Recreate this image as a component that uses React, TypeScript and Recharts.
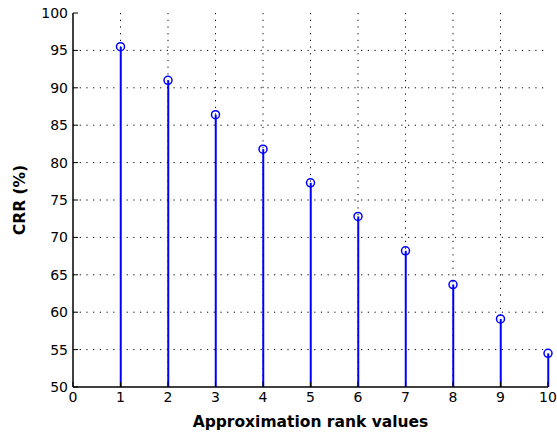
import React from 'react';
import { ComposedChart, Bar, Scatter, XAxis, YAxis, CartesianGrid } from 'recharts';

const ranks = [1, 2, 3, 4, 5, 6, 7, 8, 9, 10];
const crr = [95.5, 91.0, 86.4, 81.8, 77.3, 72.8, 68.2, 63.7, 59.1, 54.5];
const xTicks = [0, 1, 2, 3, 4, 5, 6, 7, 8, 9, 10];
const yTicks = [50, 55, 60, 65, 70, 75, 80, 85, 90, 95, 100];

const data = ranks.map((r, i) => ({ x: r, y: crr[i] }));

const FONT = 'DejaVu Sans';
const tickStyle = { fill: '#000', fontSize: 14, fontFamily: FONT };
const axisLine = { stroke: '#000', strokeWidth: 1.5 };
const tickLine = { stroke: '#000', strokeWidth: 1 };

const Marker = (props: any) => {
  const { cx, cy } = props;
  if (cx == null || cy == null) return null;
  return <circle cx={cx} cy={cy} r={4} fill="none" stroke="#0000FF" strokeWidth={1.5} />;
};

export default function App() {
  return (
    <div style={{ position: 'absolute', left: 0, top: 0, width: 557, height: 436, background: '#fff' }}>
      <ComposedChart
        width={557}
        height={436}
        data={data}
        margin={{ top: 13, right: 9, bottom: 0, left: 0 }}
      >
        <CartesianGrid
          stroke="#000"
          strokeDasharray="1.2 5.5"
          horizontalValues={yTicks.slice(1, -1)}
          verticalValues={xTicks.slice(1, -1)}
        />
        <XAxis
          dataKey="x"
          type="number"
          domain={[0, 10]}
          ticks={xTicks}
          interval={0}
          height={49}
          tick={tickStyle}
          tickSize={-5}
          tickMargin={10}
          axisLine={axisLine}
          tickLine={tickLine}
          label={{
            value: 'Approximation rank values',
            position: 'insideBottom',
            offset: 9,
            style: { fill: '#000', fontSize: 15.5, fontWeight: 'bold', fontFamily: FONT },
          }}
        />
        <XAxis
          xAxisId="top"
          orientation="top"
          type="number"
          domain={[0, 10]}
          ticks={xTicks}
          interval={0}
          height={0}
          tick={false}
          tickSize={-5}
          axisLine={axisLine}
          tickLine={tickLine}
        />
        <YAxis
          type="number"
          domain={[50, 100]}
          ticks={yTicks}
          interval={0}
          width={73}
          tick={tickStyle}
          tickSize={-5}
          tickMargin={10}
          axisLine={axisLine}
          tickLine={tickLine}
          label={{
            value: 'CRR (%)',
            angle: -90,
            position: 'insideLeft',
            offset: 19,
            style: { textAnchor: 'middle', fill: '#000', fontSize: 15.5, fontWeight: 'bold', fontFamily: FONT },
          }}
        />
        <YAxis
          yAxisId="right"
          orientation="right"
          type="number"
          domain={[50, 100]}
          ticks={yTicks}
          interval={0}
          width={0}
          tick={false}
          tickSize={-5}
          axisLine={axisLine}
          tickLine={tickLine}
        />
        <Bar dataKey="y" barSize={2} fill="#0000FF" isAnimationActive={false} />
        <Scatter dataKey="y" shape={<Marker />} isAnimationActive={false} />
      </ComposedChart>
    </div>
  );
}
